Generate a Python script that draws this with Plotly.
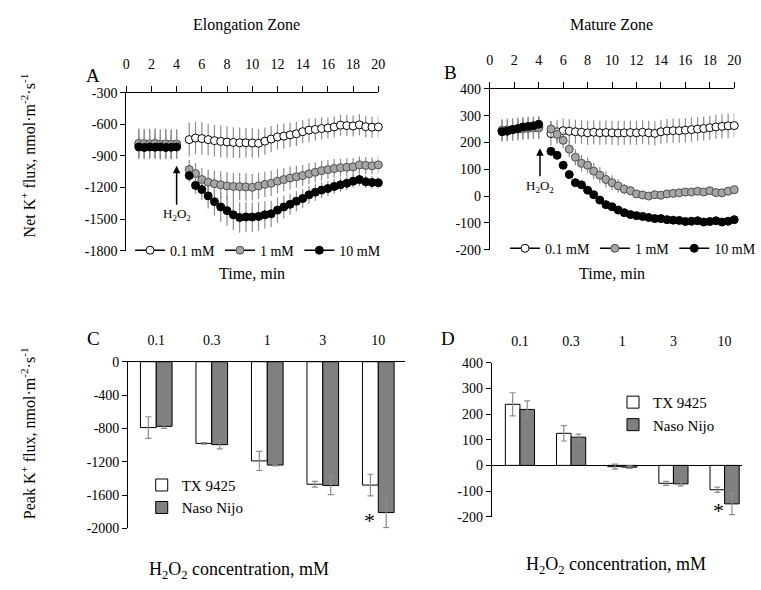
import plotly.graph_objects as go

W, H = 761, 590
def fx(p): return p / W
def fy(p): return 1 - p / H

# ---------------- data ----------------
t_pre = [1.0, 1.43, 1.86, 2.29, 2.71, 3.14, 3.57, 4.0]
t_post = [5.0, 5.5, 6.0, 6.5, 7.0, 7.5, 8.0, 8.5, 9.0, 9.5, 10.0, 10.5, 11.0, 11.5, 12.0,
          12.5, 13.0, 13.5, 14.0, 14.5, 15.0, 15.5, 16.0, 16.5, 17.0, 17.5, 18.0, 18.5,
          19.0, 19.5, 20.0]
time_all = t_pre + t_post

# Panel A (elongation zone) net K+ flux
A_01 = [-790, -792, -788, -790, -795, -790, -792, -790,
        -745, -730, -735, -745, -755, -762, -768, -772, -775, -775, -777, -780, -760, -740,
        -720, -712, -700, -690, -670, -655, -648, -640, -635, -625, -608, -612, -615, -605,
        -622, -627, -625]
A_01_err = [140, 140, 140, 140, 140, 140, 140, 140,
            160, 155, 155, 150, 150, 150, 150, 145, 145, 140, 140, 135, 130, 125,
            120, 120, 115, 115, 110, 110, 105, 105, 100, 100, 100, 100, 100, 100,
            100, 100, 100]
A_1 = [-780, -782, -785, -780, -790, -785, -790, -788,
       -1030, -1068, -1125, -1150, -1165, -1175, -1185, -1190, -1192, -1195, -1198, -1185,
       -1170, -1160, -1140, -1125, -1110, -1098, -1087, -1070, -1055, -1040, -1030, -1020,
       -1012, -1008, -1004, -985, -990, -994, -985]
A_1_err = [140, 140, 140, 140, 140, 140, 140, 140,
           90, 100, 110, 120, 125, 130, 130, 130, 130, 130, 125, 125, 120, 120,
           115, 110, 110, 105, 100, 100, 95, 95, 90, 90, 85, 85, 85, 80, 80, 80, 80]
A_10 = [-815, -820, -815, -818, -815, -820, -818, -815,
        -1087, -1180, -1220, -1280, -1335, -1385, -1420, -1460, -1485, -1480, -1480, -1475,
        -1460, -1450, -1415, -1385, -1360, -1330, -1305, -1270, -1245, -1225, -1210, -1190,
        -1175, -1160, -1140, -1125, -1145, -1152, -1155]
A_10_err = [100, 100, 100, 100, 100, 100, 100, 100,
            60, 80, 100, 120, 130, 140, 145, 145, 145, 140, 140, 135, 130, 125,
            120, 110, 100, 95, 90, 85, 80, 75, 70, 70, 65, 65, 60, 60, 60, 60, 60]

# Panel B (mature zone) net K+ flux
B_01 = [245, 247, 248, 250, 252, 253, 255, 255,
        233, 240, 244, 242, 240, 238, 236, 238, 236, 237, 236, 235, 236, 237, 236, 238,
        236, 234, 240, 243, 244, 244, 246, 248, 250, 252, 255, 258, 260, 262, 263]
B_01_err = [42, 42, 42, 42, 42, 42, 42, 42,
            45, 45, 45, 45, 45, 45, 45, 45, 45, 45, 45, 45, 45, 45, 45, 45,
            45, 45, 45, 45, 45, 45, 45, 45, 45, 45, 45, 45, 45, 45, 45]
B_1 = [245, 245, 248, 250, 252, 253, 255, 255,
       250, 230, 208, 175, 145, 122, 115, 93, 78, 62, 50, 38, 26, 20, 8, 4, 0, 5, 3,
       8, 10, 12, 15, 15, 18, 15, 20, 13, 12, 18, 24]
B_1_err = [40, 40, 40, 40, 40, 40, 40, 40,
           30, 30, 30, 30, 30, 30, 30, 30, 30, 30, 28, 25, 20, 18, 15, 12, 10, 10, 10,
           10, 10, 10, 10, 10, 10, 10, 10, 10, 10, 10, 10]
B_10 = [240, 242, 248, 252, 258, 260, 262, 268,
        167, 152, 115, 80, 50, 42, 22, 5, -15, -32, -40, -52, -62, -69, -73, -76, -80,
        -84, -84, -88, -90, -91, -95, -94, -92, -97, -95, -92, -97, -94, -88]
B_10_err = [30, 30, 30, 30, 30, 30, 30, 30,
            12, 12, 12, 12, 12, 12, 10, 10, 10, 10, 10, 10, 10, 10, 10, 10, 10,
            10, 10, 10, 10, 10, 10, 10, 10, 10, 10, 10, 10, 10, 10]

# Panels C / D: peak K+ flux
conc = ["0.1", "0.3", "1", "3", "10"]
C_tx = [-790, -980, -1190, -1470, -1480]
C_tx_err = [130, 10, 115, 35, 130]
C_naso = [-775, -995, -1240, -1485, -1810]
C_naso_err = [25, 50, 10, 110, 180]
D_tx = [238, 125, -5, -70, -95]
D_tx_err = [45, 30, 10, 8, 10]
D_naso = [218, 110, -7, -72, -150]
D_naso_err = [33, 12, 5, 8, 42]

series_labels = ["0.1 mM", "1 mM", "10 mM"]
cultivars = ["TX 9425", "Naso Nijo"]

# tick values / labels
time_ticks = [0, 2, 4, 6, 8, 10, 12, 14, 16, 18, 20]
A_yticks = [-1800, -1500, -1200, -900, -600, -300]
B_yticks = [-200, -100, 0, 100, 200, 300, 400]
C_yticks = [-2000, -1600, -1200, -800, -400, 0]
D_yticks = [-200, -100, 0, 100, 200, 300, 400]

# ---------------- styling ----------------
FONT = "Liberation Serif, Times New Roman, serif"
ERRC = "#8c8c8c"
mk_styles = [
    dict(color="white", line=dict(color="black", width=1)),
    dict(color="#a6a6a6", line=dict(color="#4d4d4d", width=1)),
    dict(color="black", line=dict(color="black", width=1)),
]

fig = go.Figure()

def add_time_panel(xa, ya, legend_name, ys, errs):
    for i, (yv, ev) in enumerate(zip(ys, errs)):
        fig.add_trace(go.Scatter(
            x=time_all, y=yv, mode="markers", xaxis=xa, yaxis=ya,
            marker=dict(size=8, symbol="circle", **mk_styles[i]),
            error_y=dict(type="data", array=ev, color=ERRC, thickness=1.2, width=0),
            showlegend=False, cliponaxis=False))
    for i in range(3):
        fig.add_trace(go.Scatter(
            x=[None], y=[None], mode="lines+markers", xaxis=xa, yaxis=ya,
            marker=dict(size=8, symbol="circle", **mk_styles[i]),
            line=dict(color="black", width=1.5),
            name=series_labels[i], legend=legend_name, showlegend=True))

add_time_panel("x", "y", "legend", [A_01, A_1, A_10], [A_01_err, A_1_err, A_10_err])
add_time_panel("x2", "y2", "legend2", [B_01, B_1, B_10], [B_01_err, B_1_err, B_10_err])

def add_bar_panel(xa, ya, legend_name, tx, txe, na, nae):
    fig.add_trace(go.Bar(x=conc, y=tx, xaxis=xa, yaxis=ya, name=cultivars[0],
                         marker=dict(color="white", line=dict(color="black", width=1)),
                         error_y=dict(type="data", array=txe, color=ERRC, thickness=1.2, width=3),
                         legend=legend_name, offsetgroup="a"))
    fig.add_trace(go.Bar(x=conc, y=na, xaxis=xa, yaxis=ya, name=cultivars[1],
                         marker=dict(color="#808080", line=dict(color="black", width=1)),
                         error_y=dict(type="data", array=nae, color=ERRC, thickness=1.2, width=3),
                         legend=legend_name, offsetgroup="b"))

add_bar_panel("x3", "y3", "legend3", C_tx, C_tx_err, C_naso, C_naso_err)
add_bar_panel("x4", "y4", "legend4", D_tx, D_tx_err, D_naso, D_naso_err)

axis_common = dict(showgrid=False, zeroline=False, showline=True, linecolor="black",
                   linewidth=1, ticks="outside", tickcolor="black", ticklen=5,
                   tickfont=dict(family=FONT, size=14, color="black"))

def yax(ticks, **kw):
    return dict(axis_common, tickmode="array", tickvals=ticks,
                ticktext=[str(v) for v in ticks], **kw)

time_x = dict(axis_common, range=[0, 20], tickmode="array", tickvals=time_ticks,
              ticktext=[str(v) for v in time_ticks], side="top", ticklen=6,
              ticklabelstandoff=11)

fig.update_layout(
    width=W, height=H, margin=dict(l=0, r=0, t=0, b=0),
    paper_bgcolor="white", plot_bgcolor="white",
    font=dict(family=FONT, size=14, color="black"),
    barmode="group", bargap=0.43, bargroupgap=0,
    xaxis=dict(time_x, domain=[fx(126), fx(386)], anchor="y"),
    yaxis=yax(A_yticks, domain=[fy(250), fy(88)], range=[-1800, -300], anchor="x"),
    xaxis2=dict(time_x, domain=[fx(501), fx(753)], anchor="y2"),
    yaxis2=yax(B_yticks, domain=[fy(249), fy(84)], range=[-200, 400], anchor="x2"),
    xaxis3=dict(axis_common, type="category", domain=[fx(128), fx(414)],
                range=[-0.507, 4.49], side="top", anchor="y3", ticks="outside",
                ticklen=10, tickcolor="rgba(0,0,0,0)"),
    yaxis3=yax(C_yticks, domain=[fy(535), fy(364)], range=[-2000, 0], anchor="x3"),
    xaxis4=dict(axis_common, type="category", domain=[fx(503), 1.0],
                range=[-0.55, 4.34], side="top", anchor="y4", showline=False,
                ticks="outside", ticklen=10, tickcolor="rgba(0,0,0,0)"),
    yaxis4=yax(D_yticks, domain=[fy(523), fy(365)], range=[-200, 400], anchor="x4",
               zeroline=True, zerolinecolor="black", zerolinewidth=1),
    legend=dict(orientation="h", x=fx(130), y=fy(250), xanchor="left", yanchor="middle",
                bgcolor="rgba(0,0,0,0)", font=dict(family=FONT, size=14),
                itemwidth=30, tracegroupgap=0),
    legend2=dict(orientation="h", x=fx(517), y=fy(248), xanchor="left", yanchor="middle",
                 bgcolor="rgba(0,0,0,0)", font=dict(family=FONT, size=14),
                 itemwidth=30),
    legend3=dict(orientation="v", x=fx(142), y=fy(502), xanchor="left", yanchor="middle",
                 bgcolor="rgba(0,0,0,0)", font=dict(family=FONT, size=15),
                 tracegroupgap=0),
    legend4=dict(orientation="v", x=fx(628), y=fy(417), xanchor="left", yanchor="middle",
                 bgcolor="rgba(0,0,0,0)", font=dict(family=FONT, size=15),
                 tracegroupgap=0),
)

ann = []
def text(x, y, s, size=14, **kw):
    ann.append(dict(x=fx(x), y=fy(y), xref="paper", yref="paper", text=s, showarrow=False,
                    xanchor="center", yanchor="middle",
                    font=dict(family=FONT, size=size, color="black"), **kw))

text(250, 18, "Elongation Zone", 16)
text(626, 18, "Mature Zone", 16)
text(92, 70, "A", 19)
text(460, 67, "B", 19)
text(92, 340, "C", 19)
text(458, 340, "D", 19)
text(256, 273, "Time, min", 16)
text(627, 273, "Time, min", 16)
text(242, 578, "H<sub>2</sub>O<sub>2</sub> concentration, mM", 18)
text(631, 573, "H<sub>2</sub>O<sub>2</sub> concentration, mM", 18)
text(25, 152, "Net K<sup>+</sup> flux, nmol·m<sup>-2</sup>·s<sup>-1</sup>", 16, textangle=-90)
text(25, 437, "Peak K<sup>+</sup> flux, nmol·m<sup>-2</sup>·s<sup>-1</sup>", 16, textangle=-90)

# H2O2 arrows
ann.append(dict(x=4.0, y=-994, xref="x", yref="y", ax=0, ay=49, text="H<sub>2</sub>O<sub>2</sub>",
                showarrow=True, arrowhead=2, arrowsize=1, arrowwidth=1.5, arrowcolor="black",
                font=dict(family=FONT, size=13, color="black")))
ann.append(dict(x=4.1, y=178, xref="x2", yref="y2", ax=0, ay=38, text="H<sub>2</sub>O<sub>2</sub>",
                showarrow=True, arrowhead=2, arrowsize=1, arrowwidth=1.5, arrowcolor="black",
                font=dict(family=FONT, size=13, color="black")))
# significance asterisks
ann.append(dict(x=3.84, y=-1906, xref="x3", yref="y3", text="*", showarrow=False,
                font=dict(family=FONT, size=22, color="black")))
ann.append(dict(x=3.89, y=-175, xref="x4", yref="y4", text="*", showarrow=False,
                font=dict(family=FONT, size=22, color="black")))
fig.update_layout(annotations=ann)

fig.write_html("out.html")
